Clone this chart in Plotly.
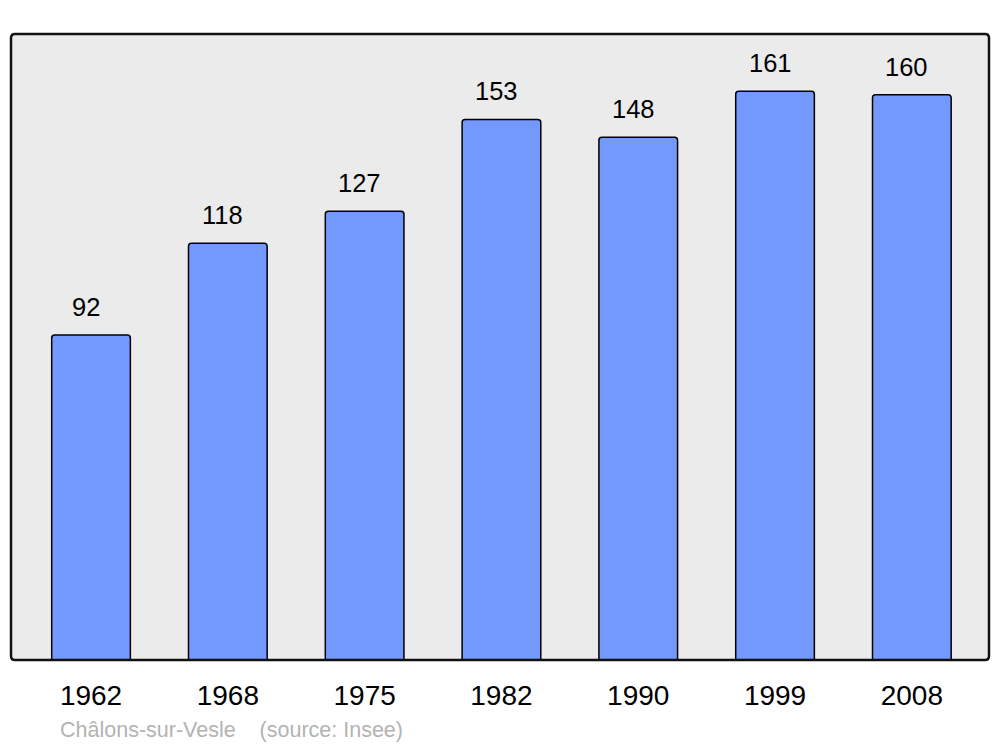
import plotly.graph_objects as go

years = ["1962", "1968", "1975", "1982", "1990", "1999", "2008"]
population = [92, 118, 127, 153, 148, 161, 160]
source_text = "Châlons-sur-Vesle    (source: Insee)"

# page body has an 8px margin; compensate
OFF = 8
W, H = 1000 - OFF, 747 - OFF
L, T = 11 - OFF, 34 - OFF
pw, ph = 978, 626
R = W - L - pw
B = H - T - ph

fig = go.Figure()
fig.add_trace(go.Bar(
    x=years, y=population, width=0.575,
    marker=dict(color="#7399ff", line=dict(color="#000000", width=1.5), cornerradius=3),
    hoverinfo="skip",
))

for i, v in enumerate(population):
    fig.add_annotation(x=i, y=v, text=str(v), showarrow=False,
                       yanchor="middle", yshift=28, xshift=-5,
                       font=dict(family="Liberation Sans, Arial", size=25.5, color="#000"))

fig.add_annotation(xref="paper", yref="paper", x=(58 - 11) / pw, y=-(730 - 660) / ph,
                   xanchor="left", yanchor="middle", text=source_text, showarrow=False,
                   font=dict(family="Liberation Sans, Arial", size=21.5, color="#b3b3b3"))

# rounded frame
rx, ry = 4 / pw, 4 / ph
path = (f"M {rx},0 L {1-rx},0 Q 1,0 1,{ry} L 1,{1-ry} Q 1,1 {1-rx},1 "
        f"L {rx},1 Q 0,1 0,{1-ry} L 0,{ry} Q 0,0 {rx},0 Z")
fig.add_shape(type="path", xref="paper", yref="paper", path=path,
              line=dict(color="#111111", width=2.5), layer="above")

fig.update_layout(
    width=W, height=H,
    margin=dict(l=L, r=R, t=T, b=B),
    paper_bgcolor="#ffffff", plot_bgcolor="#ebebeb",
    showlegend=False,
    xaxis=dict(type="category", range=[-0.585, 6.564], showgrid=False, zeroline=False,
               showline=False, ticks="", ticklabelstandoff=16,
               tickfont=dict(family="Liberation Sans, Arial", size=28, color="#000")),
    yaxis=dict(range=[0, 177.2], showgrid=False, zeroline=False, showline=False,
               showticklabels=False, ticks=""),
)

fig.write_html("out.html")
